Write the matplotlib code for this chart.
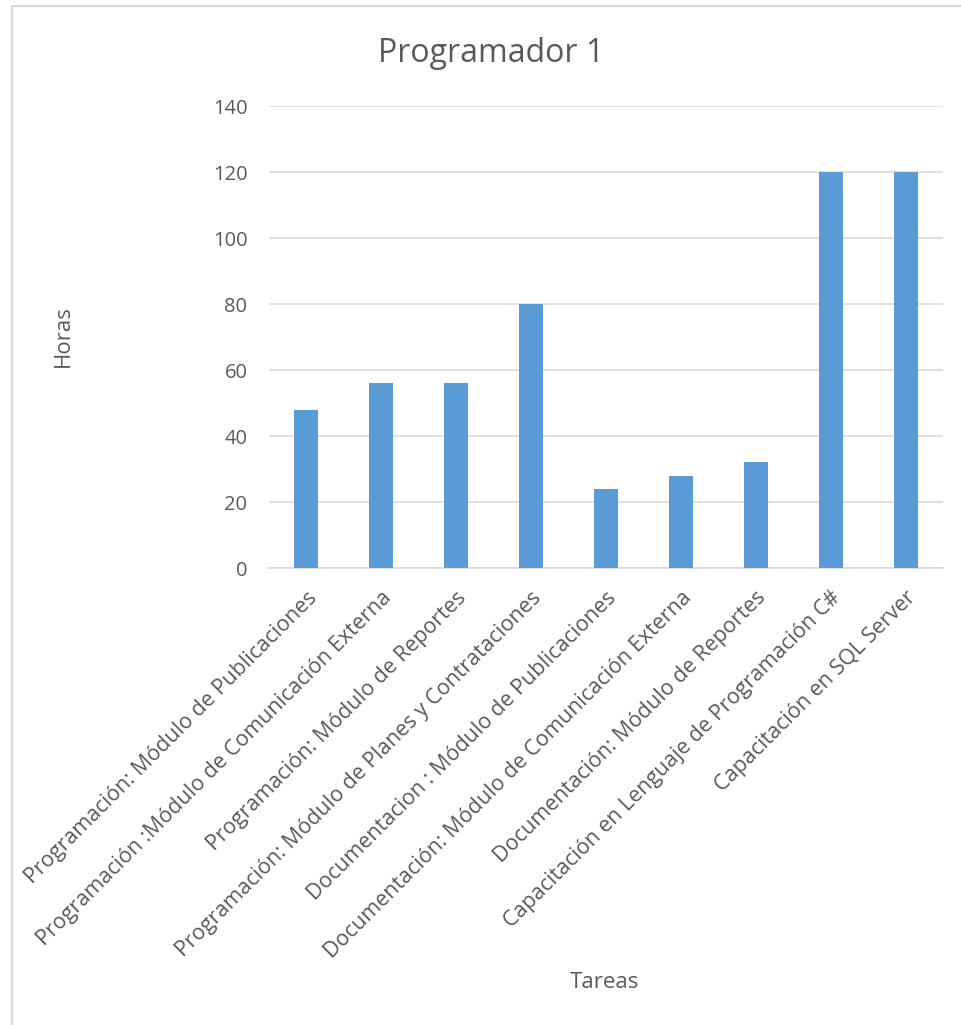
import matplotlib
matplotlib.use("Agg")
import matplotlib.pyplot as plt
from matplotlib.patches import Rectangle

categories = [
    "Programación: Módulo de Publicaciones",
    "Programación :Módulo de Comunicación Externa",
    "Programación: Módulo de Reportes",
    "Programación: Módulo de Planes y Contrataciones",
    "Documentacion : Módulo de Publicaciones",
    "Documentación: Módulo de Comunicación Externa",
    "Documentación: Módulo de Reportes",
    "Capacitación en Lenguaje de Programación C#",
    "Capacitación en SQL Server",
]
horas = [48, 56, 56, 80, 24, 28, 32, 120, 120]
yticks = [0, 20, 40, 60, 80, 100, 120, 140]

plt.rcParams['font.family'] = ['Open Sans', 'DejaVu Sans']
gray = '#595959'

W, H = 962, 1025
fig = plt.figure(figsize=(W / 100, H / 100), dpi=100)
fig.patches.append(Rectangle((12 / W, -0.05), 1.0, 1.05 - 6 / H, transform=fig.transFigure,
                             fill=False, edgecolor='#D9D9D9', linewidth=1.5))

ax = fig.add_axes([269 / W, 1 - 568 / H, (943 - 269) / W, (568 - 106) / H])
x = list(range(len(categories)))
ax.bar(x, horas, width=0.32, color='#5B9BD5', zorder=3)
ax.set_xlim(-0.5, len(categories) - 0.5)
ax.set_ylim(0, 140)
ax.set_yticks(yticks)
ax.set_yticklabels([str(v) for v in yticks], color=gray, fontsize=14.5)
ax.yaxis.grid(True, color='#D9D9D9', linewidth=1.2, zorder=0)
for s in ['top', 'right', 'left']:
    ax.spines[s].set_visible(False)
ax.spines['bottom'].set_color('#D9D9D9')
ax.spines['bottom'].set_linewidth(1.2)
ax.tick_params(axis='both', length=0)
ax.tick_params(axis='y', pad=15.5)
ax.set_xticks(x)
ax.set_xticklabels(categories, rotation=45, ha='right', va='top', rotation_mode='anchor',
                   color=gray, fontsize=15.5)
ax.tick_params(axis='x', pad=14)

fig.text(491 / W, 1 - 53 / H, "Programador 1", ha='center', va='center', fontsize=23, color=gray)
fig.text(63 / W, 1 - 336 / H, "Horas", ha='center', va='center', rotation=90, fontsize=16, color=gray)
fig.text(604 / W, 1 - 983 / H, "Tareas", ha='center', va='center', fontsize=16, color=gray)

fig.savefig("out.png", dpi=100, facecolor='white')
